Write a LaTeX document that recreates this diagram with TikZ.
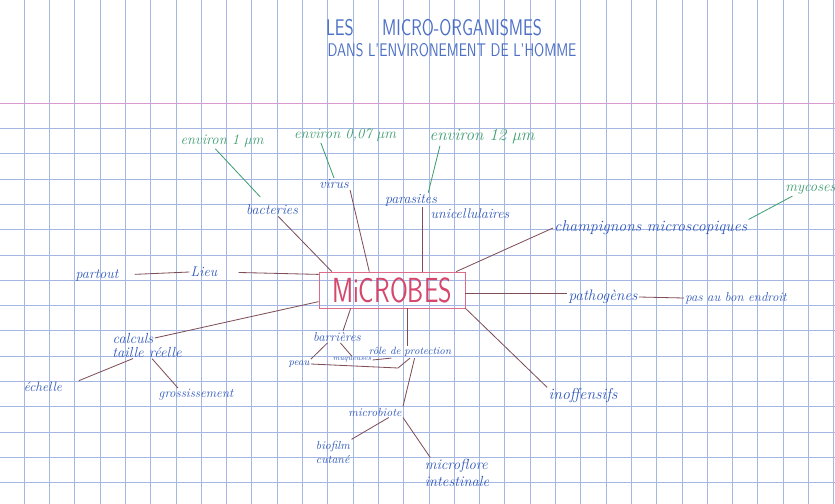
\documentclass[tikz,border=0pt]{standalone}
\usepackage{tikz}
\definecolor{gridblue}{HTML}{A4B6E2}
\definecolor{marginpink}{HTML}{D89AD0}
\definecolor{inkblue}{HTML}{2E57BC}
\definecolor{inkgreen}{HTML}{3E9E70}
\definecolor{inkred}{HTML}{D5476C}
\definecolor{linkbrown}{HTML}{7E4E56}

\begin{document}
\begin{tikzpicture}[x=0.03cm, y=-0.03cm,
  every node/.append style={inner sep=1pt},
  word/.style={text=inkblue, font=\itshape\large},
  smallword/.style={text=inkblue, font=\itshape\fontsize{11}{13}\selectfont},
  tinyword/.style={text=inkblue, font=\itshape\small},
  sizeword/.style={text=inkgreen, font=\itshape\fontsize{12.5}{15}\selectfont},
  titleword/.style={text=inkblue!85, font=\sffamily},
  link/.style={draw=linkbrown, line width=0.7pt},
  sizelink/.style={draw=inkgreen, line width=0.7pt}]
\useasboundingbox (0,0) rectangle (835,504);
\fill[white] (0,0) rectangle (835,504);
\foreach \k in {0,...,32}
  \draw[gridblue, line width=0.5pt] ({24+25.3*\k},0) -- ++(0,504);
\foreach \k in {1,...,15}
  \draw[gridblue, line width=0.5pt] (0,{103+25.3*\k}) -- ++(835,0);
\draw[marginpink, line width=0.8pt] (0,103) -- (835,103);

\node[titleword] (title1) at (434,28) {\scalebox{1}[1.35]{\fontsize{14.3}{16}\selectfont LES\hspace{0.85cm}MICRO-ORGANISMES}};
\node[titleword] (title2) at (452,50) {\scalebox{1}[1.3]{\fontsize{12}{14}\selectfont DANS L'ENVIRONEMENT DE L'HOMME}};

\node[draw=inkred!80, line width=0.7pt, minimum width=4.38cm, minimum height=1.08cm, text=inkred] (microbes) at (392,290)
  {\scalebox{1}[1.35]{\fontsize{22}{26}\selectfont\sffamily MiCROBES}};

\node[word] (bact) at (272,210) {bacteries};
\node[word] (virus) at (334,184) {virus};
\node[word] (para) at (411,200) {parasites};
\node[word] (unic) at (470,214) {unicellulaires};
\node[word, font=\itshape\fontsize{13.5}{16}\selectfont, anchor=west] (champ) at (553,228) {champignons microscopiques};
\node[word] (lieu) at (204,272) {Lieu};
\node[word] (partout) at (97,275) {partout};
\node[word, font=\itshape\fontsize{13}{15}\selectfont] (patho) at (603,297) {pathogènes};
\node[smallword] (endroit) at (736,298) {pas au bon endroit};
\node[word, font=\itshape\fontsize{13.5}{16}\selectfont] (inoff) at (583,396) {inoffensifs};
\node[smallword, font=\itshape\fontsize{12.5}{15}\selectfont] (calc) at (133,338) {calculs};
\node[smallword, font=\itshape\fontsize{12.5}{15}\selectfont] (taille) at (147,352) {taille réelle};
\node[smallword, font=\itshape\fontsize{11.5}{14}\selectfont] (echelle) at (43,387) {échelle};
\node[smallword] (gross) at (196,395) {grossissement};
\node[smallword] (barr) at (337,337) {barrières};
\node[tinyword] (peau) at (299,364) {peau};
\node[tinyword, font=\itshape\fontsize{6}{7}\selectfont] (muq) at (352,360) {muqueuses};
\node[tinyword] (role) at (410,352) {rôle de protection};
\node[tinyword, font=\itshape\normalsize] (micro) at (375,412) {microbiote};
\node[tinyword, font=\itshape\normalsize, align=left] (bio) at (333,452) {biofilm\\cutané};
\node[smallword, font=\itshape\fontsize{12.5}{15}\selectfont, align=left] (flore) at (457,473) {microflore\\intestinale};

\node[sizeword] (env1) at (222,141) {environ 1 µm};
\node[sizeword] (env2) at (345,135) {environ 0,07 µm};
\node[sizeword, font=\itshape\fontsize{14.5}{17}\selectfont] (env3) at (482,137) {environ 12 µm};
\node[sizeword, anchor=west] (myc) at (784,190) {mycoses};

\draw[link] (bact) -- (microbes.163);
\draw[link] (virus.south east) -- (microbes.141);
\draw[link] (para.south -| microbes.31) -- (microbes.31);
\draw[link] (champ.west) -- (microbes.16);
\draw[link, shorten <=6mm] (lieu.east) -- (microbes.168);
\draw[link, shorten <=4.5mm] (partout.east) -- (lieu.west);
\draw[link] (microbes.357) -- (microbes.357 -| patho.west);
\draw[link] (patho.east) -- (endroit.west);
\draw[link] (microbes.346) -- (inoff.north west);
\draw[link] (calc.east) -- (microbes.189);
\draw[link, shorten >=5mm] (taille.205) -- (echelle.east);
\draw[link] (taille.307) -- (gross.159);
\draw[link] (microbes.204) -- (barr.45);
\draw[link] (barr.212) -- (peau.north east);
\draw[link] (barr.300) -- (muq.north);
\coordinate (bend) at (398,368);
\draw[link] (peau.east) -- (bend) -- (role.south);
\draw[link] (muq.east) -- (role.198);
\draw[link] (microbes.310) -- (microbes.310 |- role.north);
\draw[link] (role.307) -- (micro.north east);
\draw[link] (micro.338) -- (bio.north east);
\draw[link] (micro.south east) -- (flore.150);

\draw[sizelink] ([xshift=-2mm]env1.south) -- ([xshift=-3.5mm, yshift=2mm]bact.north);
\draw[sizelink] (env2.198) -- (virus.north);
\draw[sizelink] ([xshift=3.5mm]env3.south west) -- (para.23);
\draw[sizelink] ([xshift=2.5mm]myc.south west) -- (champ.north east);
\end{tikzpicture}
\end{document}
